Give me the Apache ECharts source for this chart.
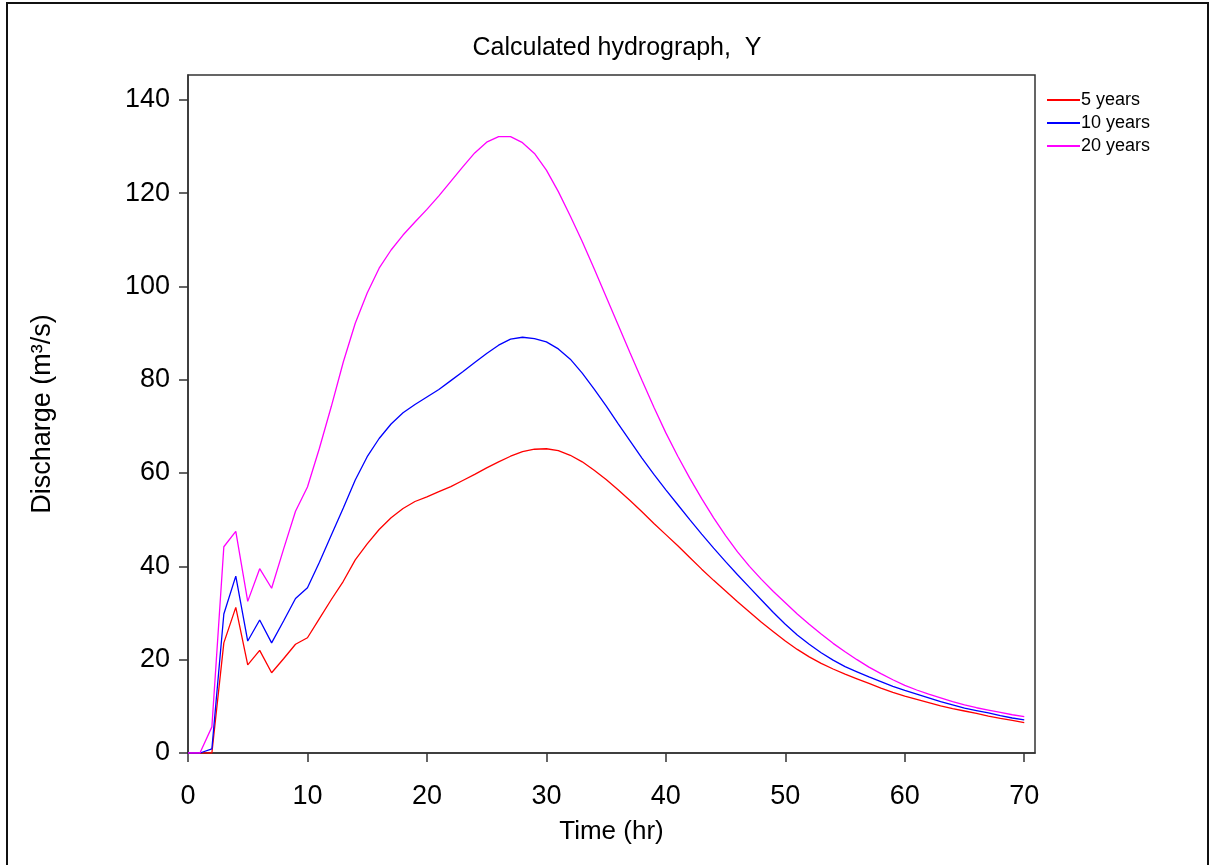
<!DOCTYPE html>
<html>
<head>
<meta charset="utf-8">
<title>Calculated hydrograph</title>
<script src="https://cdn.jsdelivr.net/npm/echarts@6/dist/echarts.min.js"></script>
<style>
  html, body { margin: 0; padding: 0; background: #fff; }
  #chart { width: 1211px; height: 865px; }
</style>
</head>
<body>
<div id="chart"></div>
<script>
// time in hours, one reading per hour
const hours = Array.from({ length: 71 }, (_, i) => i)

const q5 = [
  0, 0, 0, 23.6, 31.2, 18.9, 22.0, 17.2, 20.2, 23.3,
  24.7, 28.8, 32.9, 36.8, 41.4, 44.8, 47.9, 50.4, 52.4, 53.9,
  54.9, 56.0, 57.1, 58.4, 59.7, 61.1, 62.4, 63.6, 64.6, 65.1,
  65.2, 64.8, 63.8, 62.4, 60.6, 58.6, 56.4, 54.1, 51.7, 49.2,
  46.8, 44.4, 41.9, 39.4, 37.0, 34.7, 32.4, 30.2, 28.0, 26.0,
  24.0, 22.2, 20.6, 19.2, 18.0, 16.9, 15.9, 14.9, 13.9, 13.0,
  12.2, 11.5, 10.8, 10.1, 9.5, 9.0, 8.5, 7.9, 7.4, 7.0,
  6.5
]

const q10 = [
  0, 0, 0.9, 29.8, 37.9, 24.0, 28.5, 23.6, 28.3, 33.1,
  35.4, 40.9, 46.7, 52.5, 58.5, 63.5, 67.4, 70.5, 72.9, 74.7,
  76.3, 77.9, 79.8, 81.7, 83.7, 85.6, 87.4, 88.7, 89.1, 88.8,
  88.1, 86.6, 84.4, 81.4, 78.0, 74.4, 70.6, 66.9, 63.2, 59.7,
  56.4, 53.2, 50.0, 46.9, 43.9, 41.0, 38.2, 35.5, 32.8, 30.1,
  27.6, 25.3, 23.3, 21.5, 19.9, 18.5, 17.4, 16.3, 15.3, 14.3,
  13.4, 12.6, 11.8, 11.0, 10.3, 9.6, 9.1, 8.6, 8.0, 7.5,
  7.1
]

const q20 = [
  0, 0, 5.6, 44.2, 47.5, 32.5, 39.5, 35.3, 43.7, 51.8,
  57.0, 65.3, 74.3, 83.8, 92.1, 98.6, 103.9, 107.8, 111.0, 113.8,
  116.5, 119.4, 122.5, 125.6, 128.6, 130.9, 132.1, 132.1, 130.8, 128.5,
  124.9, 120.3, 115.1, 109.6, 103.8, 97.8, 91.8, 85.8, 79.9, 74.1,
  68.6, 63.6, 58.9, 54.5, 50.4, 46.6, 43.1, 40.0, 37.2, 34.6,
  32.2, 29.8, 27.6, 25.5, 23.5, 21.7, 20.0, 18.4, 17.0, 15.7,
  14.5, 13.5, 12.6, 11.8, 11.0, 10.3, 9.7, 9.2, 8.7, 8.2,
  7.8
]

const seriesNames = ['5 years', '10 years', '20 years']
const seriesColors = ['#ff0000', '#0000ff', '#ff00ff']
const xTicks = [0, 10, 20, 30, 40, 50, 60, 70]
const yTicks = [0, 20, 40, 60, 80, 100, 120, 140]

const font = "'Liberation Sans', Arial, sans-serif"
const axisColor = '#333'

const chart = echarts.init(document.getElementById('chart'))

const lineSeries = [q5, q10, q20].map((values, i) => ({
  name: seriesNames[i],
  type: 'line',
  data: hours.map((h, j) => [h, values[j]]),
  showSymbol: false,
  symbol: 'none',
  lineStyle: { color: seriesColors[i], width: 1.3 },
  itemStyle: { color: seriesColors[i] },
  z: 3 + i
}))

chart.setOption({
  animation: false,
  backgroundColor: '#fff',
  textStyle: { fontFamily: font },
  title: {
    text: 'Calculated hydrograph,  Y',
    left: 612,
    textAlign: 'center',
    top: 31,
    textStyle: { fontSize: 25, fontWeight: 'normal', color: '#000', fontFamily: font }
  },
  legend: {
    orient: 'vertical',
    left: 1042,
    top: 86,
    itemWidth: 33,
    itemHeight: 2,
    itemGap: 5,
    icon: 'rect',
    textStyle: { fontSize: 18, color: '#000', fontFamily: font, padding: [0, 0, 0, -4] },
    data: seriesNames
  },
  graphic: [
    {
      type: 'rect',
      shape: { x: 7, y: 3, width: 1201, height: 900 },
      style: { fill: 'none', stroke: '#111', lineWidth: 2 },
      silent: true
    }
  ],
  grid: {
    left: 188,
    top: 75,
    right: 176,
    bottom: 112,
    show: true,
    borderColor: axisColor,
    borderWidth: 1.5,
    containLabel: false
  },
  xAxis: {
    type: 'value',
    min: 0,
    max: 70.9,
    name: 'Time (hr)',
    nameLocation: 'middle',
    nameGap: 66,
    nameTextStyle: { fontSize: 26, color: '#000', fontFamily: font },
    axisLine: { show: true, onZero: false, lineStyle: { color: axisColor, width: 1.5 } },
    axisTick: { show: true, inside: false, length: 9, customValues: xTicks, lineStyle: { color: axisColor, width: 1.5 } },
    axisLabel: { customValues: xTicks, fontSize: 27, color: '#000', margin: 30, fontFamily: font },
    splitLine: { show: false }
  },
  yAxis: {
    type: 'value',
    min: 0,
    max: 145.3,
    name: 'Discharge (m³/s)',
    nameLocation: 'middle',
    nameGap: 132,
    nameRotate: 90,
    nameTextStyle: { fontSize: 27, color: '#000', fontFamily: font },
    axisLine: { show: true, onZero: false, lineStyle: { color: axisColor, width: 1.5 } },
    axisTick: { show: true, inside: false, length: 9, customValues: yTicks, lineStyle: { color: axisColor, width: 1.5 } },
    axisLabel: { customValues: yTicks, fontSize: 27, color: '#000', margin: 18, fontFamily: font },
    splitLine: { show: false }
  },
  series: lineSeries
})
</script>
</body>
</html>
